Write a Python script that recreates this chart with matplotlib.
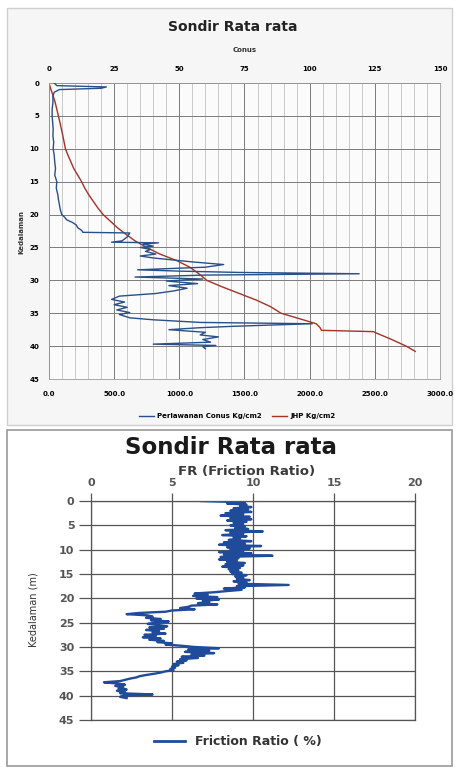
import matplotlib
matplotlib.use("Agg")
import matplotlib.pyplot as plt
from matplotlib.patches import Rectangle
from matplotlib.lines import Line2D
import numpy as np

# ---- data ----
depth_ticks = [0, 5, 10, 15, 20, 25, 30, 35, 40, 45]

# cone resistance (top axis, kg/cm2)
conus_depth = [0.0, 0.4, 0.6, 0.8, 1.0, 1.4, 2, 3, 4, 5, 6, 7, 8, 9, 10, 11, 12, 13,
               14, 15, 16, 17, 17.7, 18.5, 19.2, 20.0, 20.4, 20.8, 21.2, 21.6, 22.0,
               22.4, 22.7, 22.8, 23.4, 24.0, 24.2, 24.3, 24.5, 24.8, 25.0, 25.3,
               25.6, 26.0, 26.3, 26.6, 26.8, 27.2, 27.6, 28.0, 28.2, 28.4, 28.6,
               28.8, 29.0, 29.2, 29.5, 29.8, 30.1, 30.5, 30.8, 31.2, 31.6, 32.0,
               32.4, 32.9, 33.3, 33.7, 34.1, 34.5, 34.9, 35.2, 35.7, 36.0, 36.4,
               36.6, 36.8, 37.0, 37.2, 37.5, 37.9, 38.3, 38.6, 39.0, 39.4, 39.7,
               39.9, 40.1, 40.4]
conus_value = [2, 3, 22, 20, 4, 2, 1.5, 1.5, 1.2, 1.2, 1.4, 1.6, 1.5, 1.8, 1.6, 2.0,
               2.2, 2.5, 2.2, 3.0, 2.8, 3.4, 3.6, 4.0, 4.3, 4.9, 6.0, 6.8, 9.0, 10.5,
               11.0, 12.5, 13.0, 31.0, 30.0, 28.0, 24.0, 42.0, 36.0, 40.0, 35.0, 39.0,
               37.0, 41.0, 35.0, 40.0, 45.0, 55.0, 67.0, 60.0, 47.0, 34.0, 50.0, 73.0,
               119.0, 60.0, 33.0, 59.0, 45.0, 57.0, 46.0, 53.0, 48.0, 41.0, 27.0, 24.0,
               29.0, 25.0, 30.0, 26.0, 31.0, 27.0, 31.0, 40.0, 58.0, 101.0, 85.0,
               70.0, 58.0, 46.0, 60.0, 58.0, 65.0, 59.0, 62.0, 40.0, 64.0, 59.0, 60.0]

# total friction JHP (bottom axis, kg/cm)
jhp_depth = [0, 1, 2, 3, 4, 5, 6, 7, 8, 9, 10, 11, 12, 13, 14, 15, 16, 17, 18, 19,
             20, 21, 22, 23, 24, 25, 26, 27, 28, 29, 30, 31, 32, 33, 34, 35, 36,
             36.6, 37.2, 37.6, 37.8, 38, 39, 40, 40.8]
jhp_value = [0, 15, 32, 48, 60, 72, 84, 95, 106, 116, 126, 146, 168, 190, 220, 250,
             275, 305, 340, 375, 415, 470, 525, 590, 660, 750, 850, 980, 1080, 1150,
             1210, 1330, 1460, 1590, 1700, 1780, 1950, 2050, 2080, 2090, 2490, 2510,
             2630, 2740, 2810]

# friction ratio (%), one reading every 0.25 m
fr_step = 0.25
fr_value = [6.8, 9.5, 8.4, 9.6, 9.2, 9.9, 8.8, 9.7, 8.6, 9.9, 8.3, 9.4,
            8.0, 9.8, 8.6, 9.9, 8.4, 9.6, 8.8, 9.4, 8.6, 9.5, 8.9, 9.7,
            8.3, 10.6, 8.6, 9.4, 8.1, 9.6, 8.8, 9.2, 8.5, 9.9, 8.2, 9.5,
            7.9, 10.5, 8.4, 9.8, 8.6, 9.4, 7.9, 9.9, 8.2, 11.2, 8.0, 9.1,
            7.9, 9.0, 8.4, 9.5, 8.3, 9.4, 8.1, 9.2, 8.5, 9.1, 8.6, 9.3,
            8.7, 9.6, 8.9, 9.4, 9.0, 9.8, 8.8, 9.6, 9.1, 12.2, 9.0, 9.5,
            8.2, 9.3, 8.4, 7.6, 6.4, 7.2, 6.3, 7.8, 6.5, 7.9, 6.9, 7.3,
            6.6, 7.8, 6.2, 6.0, 5.5, 6.4, 5.0, 4.6, 3.0, 2.2, 3.5, 3.8,
            3.4, 4.3, 3.7, 4.8, 4.0, 3.5, 4.2, 4.7, 3.6, 4.5, 3.4, 4.2,
            3.8, 4.6, 3.3, 4.0, 3.2, 4.3, 3.6, 4.5, 4.1, 5.0, 4.6, 5.6,
            6.4, 7.9, 6.0, 7.3, 5.8, 7.6, 6.2, 7.0, 5.6, 6.6, 5.5, 5.9,
            5.3, 5.7, 5.1, 5.4, 5.0, 5.2, 4.9, 5.1, 4.6, 4.3, 3.9, 3.4,
            3.0, 2.8, 2.4, 2.1, 1.8, 0.8, 1.6, 2.1, 1.5, 2.0, 1.7, 2.2,
            1.6, 2.1, 1.8, 3.8, 2.0, 1.8, 2.2]
fr_depth = np.arange(len(fr_value)) * fr_step

W, H = 456, 773
narrow = ['Liberation Sans Narrow', 'DejaVu Sans']

fig = plt.figure(figsize=(W / 100, H / 100), dpi=100)
fig.patch.set_facecolor('white')


def fx(px):
    return px / W


def fy(py):
    return 1 - py / H


# chart panels (background boxes)
fig.add_artist(Rectangle((fx(7), fy(425)), fx(445), 417 / H, transform=fig.transFigure,
                         facecolor='#f6f6f6', edgecolor='#cfcfcf', lw=1, zorder=-5))
fig.add_artist(Rectangle((fx(7), fy(766)), fx(445), 336 / H, transform=fig.transFigure,
                         facecolor='white', edgecolor='#9a9a9a', lw=1.2, zorder=-5))

# ---------------- top chart ----------------
ax1 = fig.add_axes([fx(49), fy(379), fx(391), 296 / H])
ax1.set_facecolor('#fbfbfb')
ax1.set_xlim(0, 3000)
ax1.set_ylim(45, 0)
ax1.set_xticks(range(0, 3001, 500))
ax1.set_xticklabels([f"{v:.1f}" for v in range(0, 3001, 500)])
ax1.set_xticks(range(0, 3001, 100), minor=True)
ax1.set_yticks(depth_ticks)
ax1.grid(which='major', color='#7a7a7a', lw=0.7)
ax1.grid(which='minor', axis='x', color='#b5b5b5', lw=0.5)
ax1.tick_params(which='both', length=0, labelsize=5)
ax1.tick_params(axis='x', pad=9)
ax1.tick_params(axis='y', pad=7)
for s in ax1.spines.values():
    s.set_color('#9a9a9a')
    s.set_linewidth(0.6)
for t in ax1.get_xticklabels() + ax1.get_yticklabels():
    t.set_family(narrow)
    t.set_fontweight('bold')

ax1.plot(jhp_value, jhp_depth, color='#a3322a', lw=1.0, label='JHP Kg/cm2')

ax2 = ax1.twiny()
ax2.set_xlim(0, 150)
ax2.set_xticks(range(0, 151, 25))
ax2.tick_params(length=0, labelsize=5, pad=8)
for t in ax2.get_xticklabels():
    t.set_family(narrow)
    t.set_fontweight('bold')
for s in ax2.spines.values():
    s.set_visible(False)
ax2.plot(conus_value, conus_depth, color='#2a4f87', lw=1.0,
         label='Perlawanan Conus Kg/cm2')

fig.text(fx(233), fy(27), 'Sondir Rata rata', ha='center', va='center',
         fontsize=10, fontweight='bold', family=narrow, color='#222222')
fig.text(fx(245), fy(50), 'Conus', ha='center', va='center',
         fontsize=5, fontweight='bold', family=narrow, color='#333333')
fig.text(fx(21), fy(232), 'Kedalaman', ha='center', va='center', rotation=90,
         fontsize=5, fontweight='bold', family=narrow, color='#333333')

handles = [Line2D([], [], color='#2a4f87', lw=1.0), Line2D([], [], color='#a3322a', lw=1.0)]
fig.legend(handles, ['Perlawanan Conus Kg/cm2', 'JHP Kg/cm2'], loc='center',
           bbox_to_anchor=(fx(237), fy(416)), ncol=2, frameon=False,
           prop={'family': narrow, 'size': 5, 'weight': 'bold'},
           handlelength=2.2, columnspacing=1.5, handletextpad=0.4)

# ---------------- bottom chart ----------------
ax3 = fig.add_axes([fx(91), fy(720), fx(324), 219 / H])
ax3.set_facecolor('white')
ax3.set_xlim(0, 20)
ax3.set_ylim(45, 0)
ax3.set_xticks([0, 5, 10, 15, 20])
ax3.set_yticks(depth_ticks)
ax3.xaxis.tick_top()
ax3.grid(True, color='#555555', lw=0.9)
ax3.tick_params(length=6, width=0.9, color='#555555', labelsize=8,
                labelcolor='#555555', pad=3)
ax3.tick_params(axis='y', length=9)
for t in ax3.get_xticklabels() + ax3.get_yticklabels():
    t.set_fontweight('bold')
for s in ax3.spines.values():
    s.set_color('#555555')
    s.set_linewidth(0.9)

ax3.plot(fr_value, fr_depth, color='#1f4b9a', lw=1.7)

fig.text(fx(231), fy(448), 'Sondir Rata rata', ha='center', va='center',
         fontsize=16.5, fontweight='bold', color='#1a1a1a')
fig.text(fx(247), fy(471), 'FR (Friction Ratio)', ha='center', va='center',
         fontsize=9.5, fontweight='bold', color='#3a3a3a')
fig.text(fx(33), fy(610), 'Kedalaman (m)', ha='center', va='center', rotation=90,
         fontsize=7, family=narrow, color='#333333')

fig.legend([Line2D([], [], color='#1f4b9a', lw=2.0)], ['Friction Ratio ( %)'],
           loc='center', bbox_to_anchor=(fx(238), fy(742)), frameon=False,
           prop={'size': 9, 'weight': 'bold'}, handlelength=2.5, handletextpad=0.8,
           labelcolor='#333333')

fig.savefig('out.png', dpi=100)
